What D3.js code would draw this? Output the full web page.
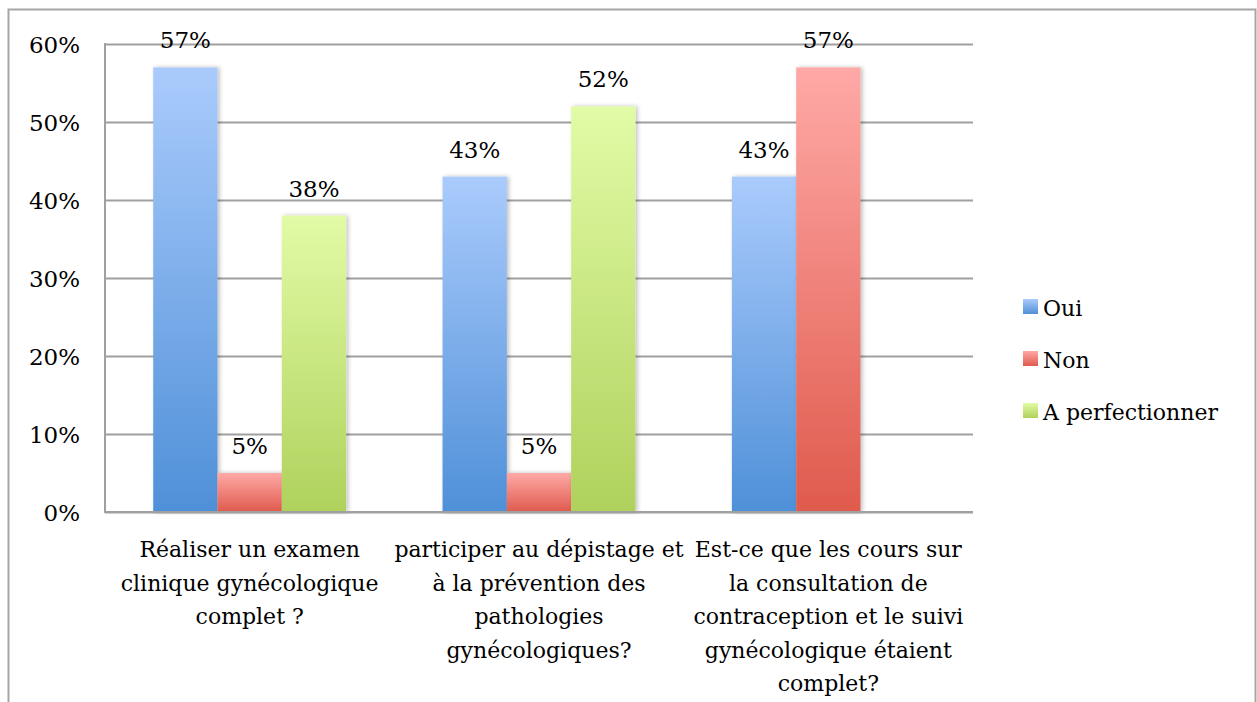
<!DOCTYPE html>
<html>
<head>
<meta charset="utf-8">
<script src="https://cdn.jsdelivr.net/npm/d3@7"></script>
<style>
  body { margin: 0; background: #fff; }
  svg text { font-family: "DejaVu Serif"; fill: #000; }
</style>
</head>
<body>
<div id="chartdiv"></div>
<script>
// Data
var categories = ["cat1", "cat2", "cat3"];
var categoryLines = [
    ["Réaliser un examen", "clinique gynécologique", "complet ?"],
    ["participer au dépistage et", "à la prévention des", "pathologies", "gynécologiques?"],
    ["Est-ce que les cours sur", "la consultation de", "contraception et le suivi", "gynécologique étaient", "complet?"]
];
var seriesNames = ["Oui", "Non", "A perfectionner"];
var oui = [0.57, 0.43, 0.43];
var non = [0.05, 0.05, 0.57];
var aPerfectionner = [0.38, 0.52, null];
var yTicks = [0, 0.1, 0.2, 0.3, 0.4, 0.5, 0.6];

var seriesValues = [oui, non, aPerfectionner];
var colors = [
    {top: "#aacbfc", bottom: "#4f90d8"},
    {top: "#ffa9a6", bottom: "#df5a4d"},
    {top: "#e2fba6", bottom: "#afd15c"}
];

var FONT = "DejaVu Serif";
var FS = 23;      // ticks and value labels
var FS_CAT = 22;  // category labels and legend

var svgWidth = 1257;
var svgHeight = 702;

// plot area
var margin = {top: 44, right: 284, bottom: 190, left: 105};
var width = svgWidth - margin.left - margin.right;
var height = svgHeight - margin.top - margin.bottom;

var svg = d3.select("#chartdiv")
    .append("svg")
    .attr("width", svgWidth)
    .attr("height", svgHeight);

var defs = svg.append("defs");
colors.forEach(function (c, i) {
    var g = defs.append("linearGradient")
        .attr("id", "grad" + i)
        .attr("x1", 0).attr("y1", 0).attr("x2", 0).attr("y2", 1);
    g.append("stop").attr("offset", "0%").attr("stop-color", c.top);
    g.append("stop").attr("offset", "100%").attr("stop-color", c.bottom);
});
defs.append("filter")
    .attr("id", "shadow")
    .attr("x", "-20%").attr("width", "140%")
    .append("feDropShadow")
    .attr("dx", 2).attr("dy", 0)
    .attr("stdDeviation", 2)
    .attr("flood-color", "#000")
    .attr("flood-opacity", 0.25);

// outer frame
svg.append("rect")
    .attr("x", 8.5).attr("y", 9.5)
    .attr("width", 1247).attr("height", 720)
    .attr("fill", "none")
    .attr("stroke", "#a6a6a6")
    .attr("stroke-width", 2);

var chartGroup = svg.append("g")
    .attr("transform", `translate(${margin.left}, ${margin.top})`);

var yScale = d3.scaleLinear()
    .domain([0, 0.6])
    .range([height, 0]);

var xScale = d3.scaleBand()
    .domain(categories)
    .range([0, width]);

var xInner = d3.scaleBand()
    .domain(seriesNames)
    .range([0, xScale.bandwidth()])
    .paddingOuter(0.75);

// gridlines
var leftAxis = d3.axisLeft(yScale)
    .tickValues(yTicks)
    .tickSize(-width)
    .tickFormat(d3.format(".0%"))
    .tickPadding(25);

var yAxisG = chartGroup.append("g").call(leftAxis)
    .attr("font-family", FONT)
    .attr("font-size", FS);
yAxisG.select(".domain").remove();
yAxisG.selectAll(".tick line")
    .attr("stroke", "#a0a0a0")
    .attr("stroke-width", 2);
yAxisG.selectAll(".tick text")
    .attr("fill", "#000")
    .attr("dy", "0.38em");

// left axis line
chartGroup.append("line")
    .attr("x1", 0).attr("x2", 0)
    .attr("y1", -1).attr("y2", height + 1)
    .attr("stroke", "#a0a0a0")
    .attr("stroke-width", 2);

// bars
var barData = [];
categories.forEach(function (c, ci) {
    seriesNames.forEach(function (s, si) {
        var v = seriesValues[si][ci];
        if (v !== null) barData.push({cat: c, series: s, si: si, value: v});
    });
});

chartGroup.selectAll("rect.bar")
    .data(barData)
    .enter()
    .append("rect")
    .attr("class", "bar")
    .attr("x", d => xScale(d.cat) + xInner(d.series))
    .attr("y", d => yScale(d.value))
    .attr("width", xInner.bandwidth())
    .attr("height", d => height - yScale(d.value))
    .attr("fill", d => "url(#grad" + d.si + ")")
    .attr("filter", "url(#shadow)");

// baseline redrawn on top of bars
chartGroup.append("line")
    .attr("x1", 0).attr("x2", width)
    .attr("y1", height).attr("y2", height)
    .attr("stroke", "#a0a0a0")
    .attr("stroke-width", 2);

// value labels
chartGroup.selectAll("text.value")
    .data(barData)
    .enter()
    .append("text")
    .attr("class", "value")
    .attr("x", d => xScale(d.cat) + xInner(d.series) + xInner.bandwidth() / 2)
    .attr("y", d => yScale(d.value) - 19)
    .attr("text-anchor", "middle")
    .attr("font-family", FONT)
    .attr("font-size", FS)
    .text(d => d3.format(".0%")(d.value));

// category labels
var catG = chartGroup.selectAll("g.cat")
    .data(categories)
    .enter()
    .append("g")
    .attr("class", "cat")
    .attr("transform", d => `translate(${xScale(d) + xScale.bandwidth() / 2}, ${height + 45})`);

catG.each(function (d, i) {
    var t = d3.select(this).append("text")
        .attr("text-anchor", "middle")
        .attr("font-family", FONT)
        .attr("font-size", FS_CAT);
    categoryLines[i].forEach(function (line, li) {
        t.append("tspan")
            .attr("x", 0)
            .attr("y", li * 33.5)
            .text(line);
    });
});

// legend
var legend = svg.append("g")
    .attr("transform", "translate(1023, 299)");

var legendItem = legend.selectAll("g")
    .data(seriesNames)
    .enter()
    .append("g")
    .attr("transform", (d, i) => `translate(0, ${i * 52})`);

legendItem.append("rect")
    .attr("width", 15)
    .attr("height", 15)
    .attr("fill", (d, i) => "url(#grad" + i + ")");

legendItem.append("text")
    .attr("x", 20)
    .attr("y", 17)
    .attr("font-family", FONT)
    .attr("font-size", FS_CAT)
    .text(d => d);
</script>
</body>
</html>
